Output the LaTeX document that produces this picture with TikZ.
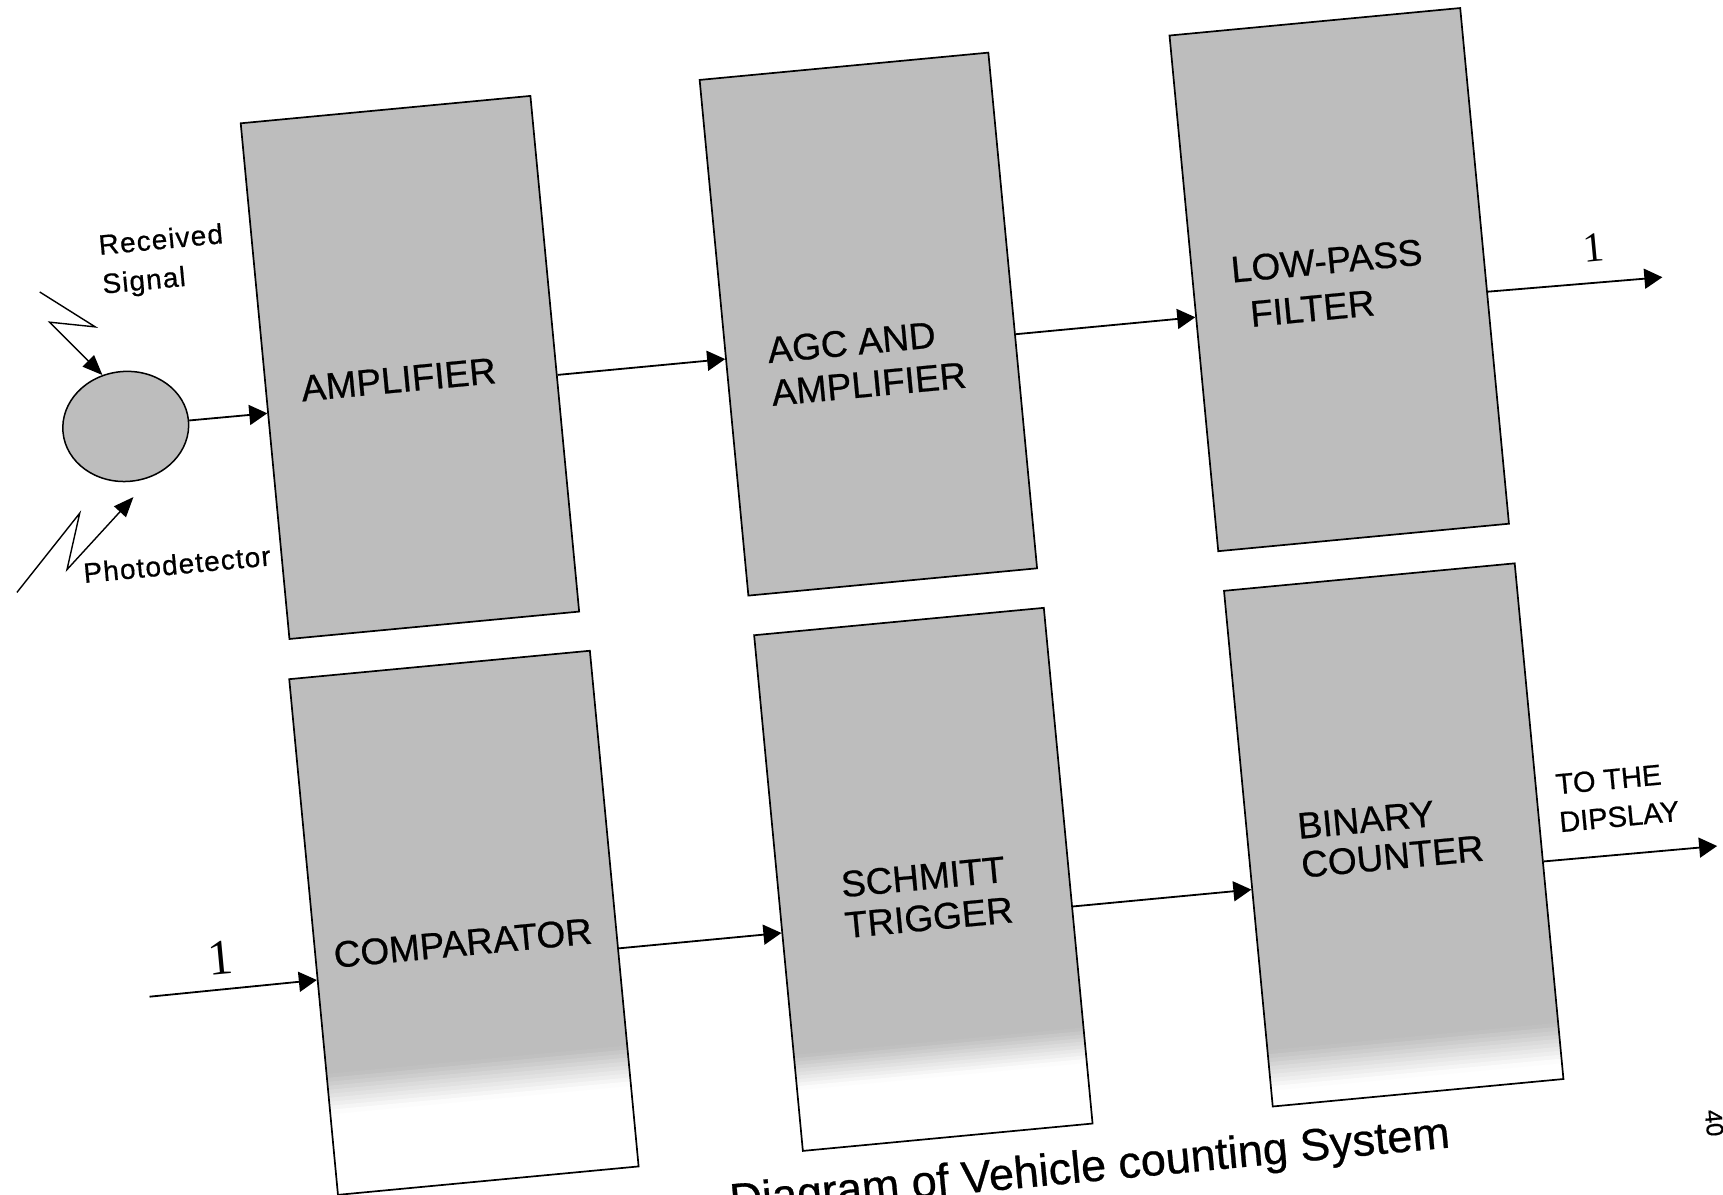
\documentclass[tikz,border=0pt]{standalone}
\usepackage{fontspec}
\setmainfont{Liberation Sans}[FakeBold=0.6]
\newfontfamily\serifnum{Liberation Serif}
\usetikzlibrary{arrows.meta,calc,shapes.geometric}
\definecolor{boxfill}{gray}{0.74}
\tikzset{
  blk/.style={draw=black, line width=1.7pt, rectangle, inner sep=0pt},
  blkfill/.style={blk, fill=boxfill},
  lbl/.style={font=\fontsize{37}{43}\selectfont, inner sep=0pt, align=left},
  smalltxt/.style={font=\fontsize{28}{39}\selectfont\addfontfeature{LetterSpace=4}, inner sep=0pt, align=left},
  conn/.style={line width=1.8pt, -{Triangle[length=18pt,width=20pt]}},
  zz/.style={line width=1.4pt, -{Triangle[length=20pt,width=16pt]}},
  num/.style={inner sep=0pt, font=\serifnum\fontsize{42}{42}\selectfont},
}
\begin{document}
\begin{tikzpicture}[x=1pt,y=1pt]
\fill[white] (0,-1194) rectangle (1723,0);
\useasboundingbox (0,-1194) rectangle (1723,0);
\clip (0,-1194) rectangle (1723,0);
\begin{scope}[shift={(861,-597)}, rotate=5.4, transform shape]
  % bottom row fills with fading lower part
  \foreach \xa/\xb/\ft/\fb in {-577/-275/-425/-465, -110/181/-450/-485, 362/654/-490/-530} {
    \fill[boxfill] (\xa,-28) rectangle (\xb,\ft);
    \foreach \i in {0,...,9} {
      \pgfmathsetmacro\ya{\ft+(\fb-\ft)*\i/10+0.5}
      \pgfmathsetmacro\yb{\ft+(\fb-\ft)*(\i+1)/10}
      \pgfmathtruncatemacro\pct{95-10*\i}
      \fill[boxfill!\pct!white] (\xa,\ya) rectangle (\xb,\yb);
    }
  }
  % top row
  \node[blkfill, minimum width=291, minimum height=518] (amp) at (-427.5,271) {};
  \node[blkfill, minimum width=290, minimum height=518] (agc) at (33,271) {};
  \node[blkfill, minimum width=292, minimum height=518] (lpf) at (506,271) {};
  % bottom row
  \node[blk, minimum width=302, minimum height=518] (comp) at (-426,-287) {};
  \node[blk, minimum width=291, minimum height=518] (sch) at (35.5,-287) {};
  \node[blk, minimum width=292, minimum height=518] (bin) at (508,-287) {};
  % photodetector
  \node[ellipse, draw=black, line width=1.5pt, fill=boxfill, minimum width=126, minimum height=110, inner sep=0pt] (pd) at (-716,239) {};
  % labels
  \node[lbl] (tAmp) at (-440,260) {AMPLIFIER};
  \node[lbl, anchor=west] (tAgc) at (-70,233) {AGC AND\\AMPLIFIER};
  \node[lbl, anchor=west, font=\fontsize{37}{46}\selectfont] (tLpf) at (399,268) {LOW-PASS\\\hspace*{15pt}FILTER};
  \node[lbl] (tComp) at (-429,-307) {COMPARATOR};
  \node[lbl, anchor=west, font=\fontsize{37}{41}\selectfont] (tSch) at (-47,-305) {SCHMITT\\TRIGGER};
  \node[lbl, anchor=west, font=\fontsize{37}{39}\selectfont] (tBin) at (413,-289) {BINARY\\COUNTER};
  \node[smalltxt, anchor=west] (tRec) at (-726,400) {Received\\Signal};
  \node[smalltxt, anchor=west] (tPhot) at (-772,97) {Photodetector};
  \node[smalltxt, anchor=west, font=\fontsize{29}{38}\selectfont] (tDisp) at (674,-271) {TO THE\\DIPSLAY};
  \node[num] (n1) at (762,279) {1};
  \node[num, font=\serifnum\fontsize{50}{50}\selectfont] (n2) at (-672,-299) {1};
  \node[inner sep=0pt, anchor=base west, font=\fontsize{45}{45}\selectfont] (cap) at (-187.5,-603.5) {Diagram of Vehicle counting System};
  \node[inner sep=0pt, rotate=-90, font=\fontsize{24}{24}\selectfont] (pg) at (800,-604) {40};
  % free ends
  \coordinate (out1) at (828,243);
  \coordinate (out2) at (829,-328.5);
  \coordinate (in1) at (-746,-331);
  \coordinate (za1) at (-789,381);
  \coordinate (za2) at (-737,341);
  \coordinate (za3) at (-782,350);
  \coordinate (zb1) at (-840,84);
  \coordinate (zb2) at (-770,157);
  \coordinate (zb3) at (-788,102);
  \coordinate (zbt) at (-715,168);
  % connectors
  \draw[zz] (za1) -- (za2) -- (za3) -- (pd.109);
  \draw[zz] (zb1) -- (zb2) -- (zb3) -- (zbt);
  \draw[conn] (pd.east) -- ($(amp.north west)!0.562!(amp.south west)$);
  \draw[conn] ($(amp.north east)!0.541!(amp.south east)$) -- ($(agc.north west)!0.541!(agc.south west)$);
  \draw[conn] ($(agc.north east)!0.546!(agc.south east)$) -- ($(lpf.north west)!0.546!(lpf.south west)$);
  \draw[conn] ($(lpf.north east)!0.55!(lpf.south east)$) -- (out1);
  \draw[conn] (in1) -- ($(comp.north west)!0.583!(comp.south west)$);
  \draw[conn] ($(comp.north east)!0.577!(comp.south east)$) -- ($(sch.north west)!0.577!(sch.south west)$);
  \draw[conn] ($(sch.north east)!0.579!(sch.south east)$) -- ($(bin.north west)!0.579!(bin.south west)$);
  \draw[conn] ($(bin.north east)!0.578!(bin.south east)$) -- (out2);
\end{scope}
\end{tikzpicture}
\end{document}
